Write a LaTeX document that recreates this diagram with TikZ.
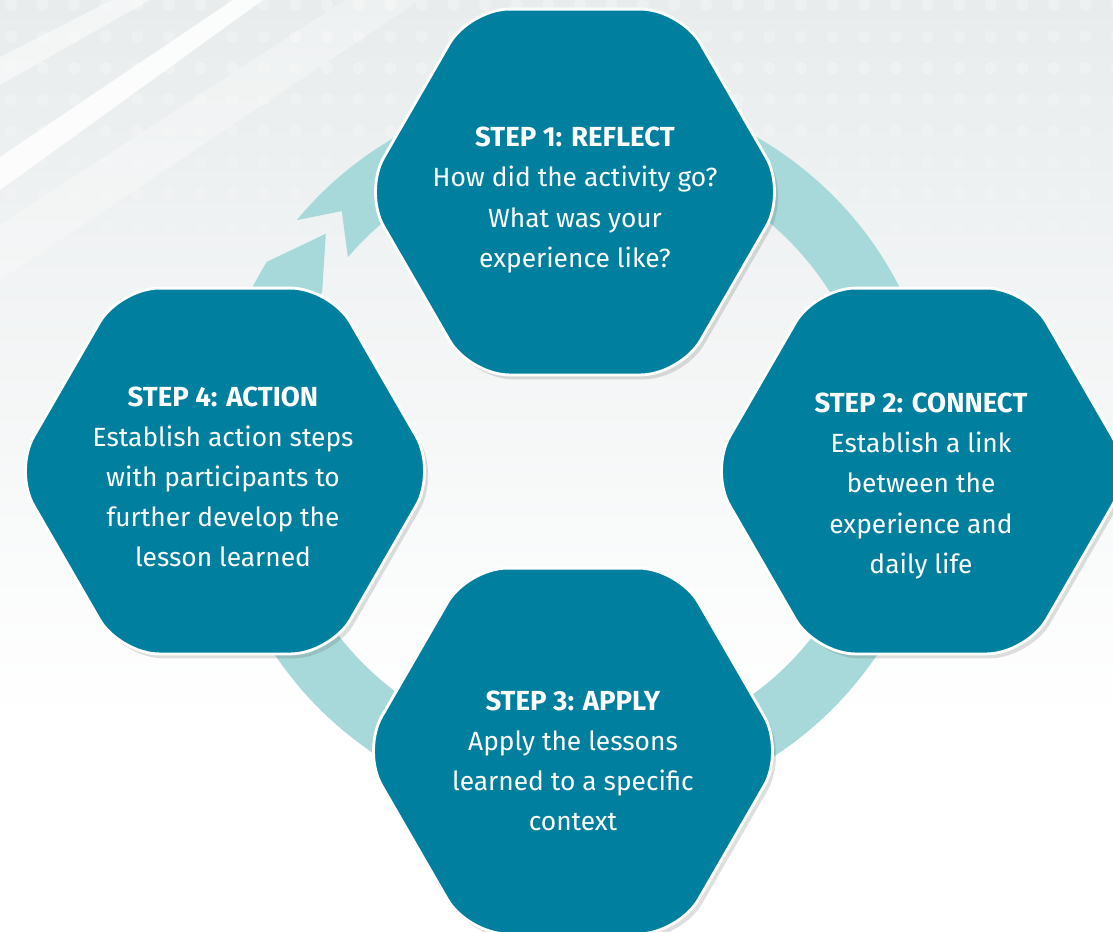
\documentclass[tikz,border=0pt]{standalone}
\usepackage{fontspec}
\setmainfont{Fira Sans}
\usepackage{tikz}
\usetikzlibrary{calc,shapes.geometric,shadows}

\definecolor{stepteal}{HTML}{007F9E}
\definecolor{ringteal}{HTML}{A7D9DA}
\definecolor{bgtop}{HTML}{E8ECED}

\newcommand{\stephead}[1]{{\fontsize{15.7}{22.8}\selectfont\textbf{#1}}}

\begin{document}
\begin{tikzpicture}
[   x=0.02cm, y=-0.02cm,
    hexbox/.style={regular polygon,regular polygon sides=6,minimum size=8.45cm,inner sep=0pt,
        fill=stepteal,draw=white,line width=1.6pt,rounded corners=0.8cm,
        drop shadow={shadow xshift=2pt,shadow yshift=-2.5pt,opacity=0.18,fill=black!70}},
]
\tikzset{steptext/.style={text=white,align=center,font=\fontsize{15}{22.8}\selectfont}}
\useasboundingbox (0,0) rectangle (1113,931);
\clip (0,0) rectangle (1113,931);

% backdrop
\fill[white] (0,0) rectangle (1113,931);
\shade[top color=bgtop,bottom color=white] (0,0) rectangle (1113,720);
\fill[white,opacity=0.85] (0,157) -- (233,0) -- (263,0) -- (0,190) -- cycle;
\fill[white,opacity=0.5] (0,57) -- (112,0) -- (150,0) -- (0,85) -- cycle;
\fill[white,opacity=0.3] (0,225) -- (345,0) -- (420,0) -- (0,280) -- cycle;
\foreach \r in {0,...,8}
{
	\pgfmathsetmacro{\op}{0.3-0.03*\r}
	\foreach \c in {0,...,35}
		\fill[white,opacity=\op] ({11+31.6*\c},{5+31.5*\r}) circle (6);
}

% cycle ring with the chevron head
\coordinate (c) at (576,452);
\fill[ringteal] ($(c)+(219.7:363)$) arc[start angle=219.7,end angle=571.6,radius=363]
	-- ($(c)+(581.1:332)$) -- ($(c)+(572.2:300)$)
	arc[start angle=572.2,end angle=220.5,radius=300]
	-- ($(c)+(225.8:336)$) -- cycle;

% the four steps
\node[hexbox] (h-1) at (575,192) {};
\node[hexbox] (h-2) at (921,471) {};
\node[hexbox] (h-3) at (573,751) {};
\node[hexbox] (h-4) at (225,471) {};

\node[steptext] (t-1) at (575,200) {\stephead{STEP 1: REFLECT}\\How did the activity go?\\What was your\\experience like?};
\node[steptext] (t-2) at (921,486) {\stephead{STEP 2: CONNECT}\\Establish a link\\between the\\experience and\\daily life};
\node[steptext] (t-3) at (573,761) {\stephead{STEP 3: APPLY}\\Apply the lessons\\learned to a specific\\context};
\node[steptext] (t-4) at (223,477) {\stephead{STEP 4: ACTION}\\Establish action steps\\with participants to\\further develop the\\lesson learned};
\end{tikzpicture}
\end{document}
